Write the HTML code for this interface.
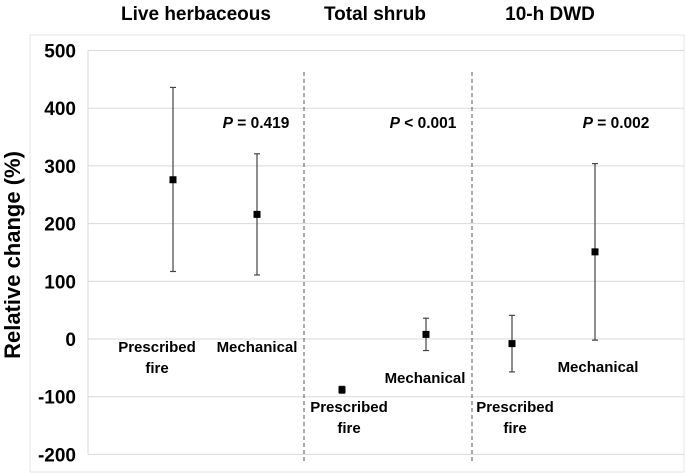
<!DOCTYPE html>
<html><head><meta charset="utf-8"><style>
body{margin:0;background:#fff;}
svg{display:block;font-family:"Liberation Sans",sans-serif;}
</style></head><body>
<svg id="chart" width="685" height="473">
<rect x="30" y="35" width="654" height="437" fill="none" stroke="#e6e6e6"/>
<g id="grid"></g>
<g id="yticks"></g>
<text x="20" y="255" transform="rotate(-90 20 255)" text-anchor="middle" font-size="22" font-weight="bold">Relative change (%)</text>
<line x1="304" y1="72" x2="304" y2="462" stroke="#555" stroke-dasharray="4,3"/>
<line x1="472" y1="72" x2="472" y2="462" stroke="#555" stroke-dasharray="4,3"/>
<g font-size="19" font-weight="bold" text-anchor="middle">
<text x="196" y="20">Live herbaceous</text>
<text x="375" y="20">Total shrub</text>
<text x="550" y="20">10-h DWD</text>
</g>
<g font-size="15.5" font-weight="bold" text-anchor="middle">
<text x="256" y="128"><tspan font-style="italic">P</tspan> = 0.419</text>
<text x="423" y="128"><tspan font-style="italic">P</tspan> &lt; 0.001</text>
<text x="616" y="128"><tspan font-style="italic">P</tspan> = 0.002</text>
</g>
<g id="marks"></g>
<g id="labels" font-size="15" font-weight="bold" text-anchor="middle"></g>
</svg>
<script>
const categories=["LH Prescribed fire","LH Mechanical","TS Prescribed fire","TS Mechanical","DWD Prescribed fire","DWD Mechanical"];
const means=[276,216,-88,8,-8,151];
const lows=[117,111,-94,-20,-57,-2];
const highs=[436,321,-82,36,41,304];
const yTicks=[500,400,300,200,100,0,-100,-200];
const xCenters=[173,257,342,426,512,595];
const y=v=>339-v*0.577;
const NS="http://www.w3.org/2000/svg";
function mk(t,a,p){const e=document.createElementNS(NS,t);for(const k in a)e.setAttribute(k,a[k]);p.appendChild(e);return e;}
const grid=document.getElementById('grid'),yt=document.getElementById('yticks'),marks=document.getElementById('marks'),lab=document.getElementById('labels');
yTicks.forEach(v=>{
 const l=mk('line',{x1:88,x2:684,y1:y(v),y2:y(v),stroke:'#d9d9d9'},grid);
 
 
 const t=mk('text',{x:76,y:y(v)+7,'text-anchor':'end','font-size':19,'font-weight':'bold'},yt);
 t.textContent=v;
 
 
});
const ax=mk('line',{x1:88,x2:88,y1:y(500),y2:y(-200),stroke:'#d9d9d9'},grid);


means.forEach((m,i)=>{
 const x=xCenters[i];
 const g=mk('g',{},marks);
 
 
 mk('line',{x1:x,x2:x,y1:y(highs[i]),y2:y(lows[i]),stroke:'#444','stroke-width':1.2},g);
 mk('line',{x1:x-3,x2:x+3,y1:y(highs[i]),y2:y(highs[i]),stroke:'#444','stroke-width':1.2},g);
 mk('line',{x1:x-3,x2:x+3,y1:y(lows[i]),y2:y(lows[i]),stroke:'#444','stroke-width':1.2},g);
 mk('rect',{x:x-3.5,y:y(m)-3.5,width:7,height:7,fill:'#000'},g);
});
const labelDefs=[[157,352,"Prescribed"],[157,373,"fire"],[257,352,"Mechanical"],[425,383,"Mechanical"],[349,412,"Prescribed"],[349,433,"fire"],[515,412,"Prescribed"],[515,433,"fire"],[598,372,"Mechanical"]];
labelDefs.forEach((d,i)=>{
 const t=mk('text',{x:d[0],y:d[1]},lab);
 t.textContent=d[2];
 
 
});
</script>
</body></html>
